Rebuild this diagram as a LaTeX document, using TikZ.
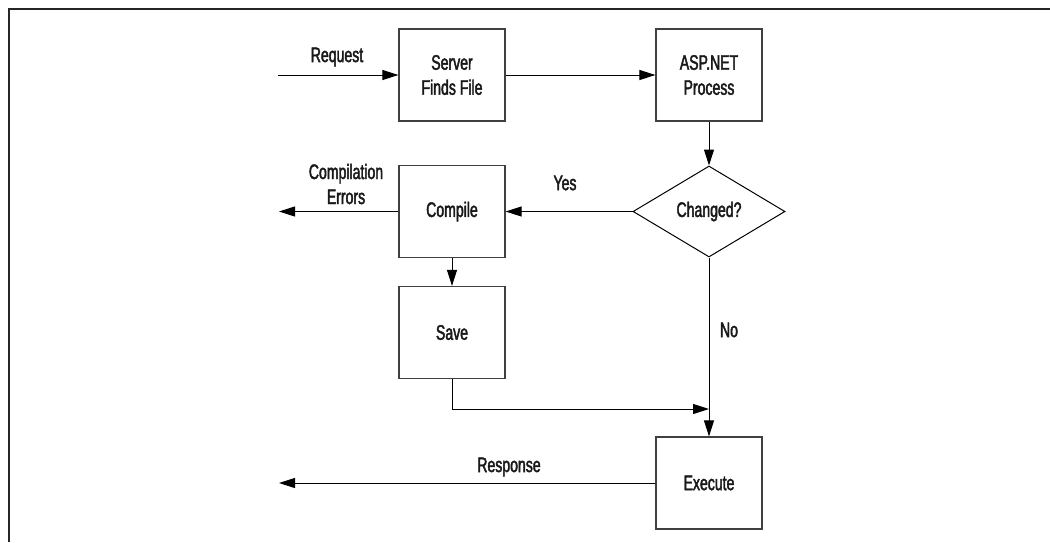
\documentclass[tikz,border=0pt]{standalone}
\usepackage{fontspec}
\setmainfont{Liberation Sans}[FakeStretch=0.67,FakeBold=2]
\usetikzlibrary{arrows.meta,shapes.geometric}
\begin{document}
\begin{tikzpicture}[x=1pt,y=-1pt,
  font=\fontsize{21}{25}\selectfont,
  box/.style={draw=black!75,line width=1.2pt,minimum width=106pt,minimum height=92pt,inner sep=0pt,align=center,text=black!90},
  decision/.style={diamond,draw=black,line width=1pt,minimum width=152pt,minimum height=91pt,inner sep=0pt,text=black!90},
  arr/.style={draw=black,line width=1pt,-{Triangle[length=16pt,width=10pt]}},
  lbl/.style={text=black!90,align=center,inner sep=0pt}]
\useasboundingbox (0,0) rectangle (1050,542);
% frame
\draw[line width=2pt,black!85] (9,542) -- (9,9) -- (1050,9);
% nodes
\node[box] (srv) at (452,75) {Server\\Finds File};
\node[box] (asp) at (709,75) {ASP.NET\\Process};
\node[decision] (chg) at (709,211.5) {Changed?};
\node[box] (cmp) at (452,211.5) {Compile};
\node[box] (sav) at (452,332.5) {Save};
\node[box] (exe) at (709,483) {Execute};
\coordinate (reqStart) at (278,75);
\coordinate (errEnd) at (279,211.5);
\coordinate (join) at (709,409);
\coordinate (respEnd) at (279,483);
% labels
\node[lbl] (lreq) at (337,57) {Request};
\node[lbl] (lyes) at (565,183) {Yes};
\node[lbl] (lerr) at (346,184) {Compilation\\Errors};
\node[lbl] (lno) at (729,330) {No};
\node[lbl] (lresp) at (509,467) {Response};
% connectors
\draw[arr] (reqStart) -- (srv.west);
\draw[arr] (srv) -- (asp);
\draw[arr] (asp) -- (chg);
\draw[arr] (chg) -- (cmp);
\draw[arr] (cmp.west) -- (errEnd);
\draw[arr] (cmp) -- (sav);
\draw[arr] (sav.south) |- (join);
\draw[arr] (chg.south) -- (exe.north);
\draw[arr] (exe.west) -- (respEnd);
\end{tikzpicture}
\end{document}
